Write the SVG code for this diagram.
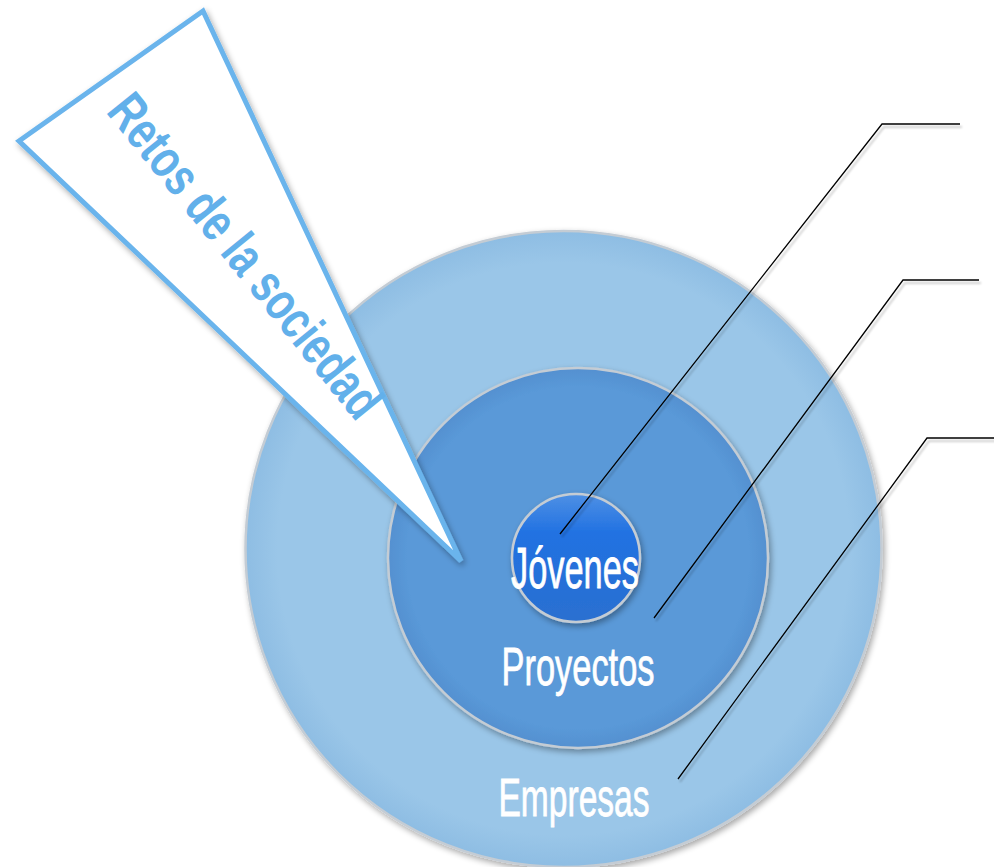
<svg xmlns="http://www.w3.org/2000/svg" width="994" height="867" viewBox="0 0 994 867">
<defs>
  <filter id="sh" x="-20%" y="-20%" width="140%" height="140%">
    <feGaussianBlur in="SourceAlpha" stdDeviation="3"/>
    <feOffset dx="2" dy="3" result="b"/>
    <feComponentTransfer><feFuncA type="linear" slope="0.35"/></feComponentTransfer>
    <feMerge><feMergeNode/><feMergeNode in="SourceGraphic"/></feMerge>
  </filter>
  <filter id="lsh" x="-10%" y="-10%" width="120%" height="120%">
    <feGaussianBlur in="SourceAlpha" stdDeviation="1.2"/>
    <feOffset dx="2" dy="3" result="b"/>
    <feComponentTransfer><feFuncA type="linear" slope="0.25"/></feComponentTransfer>
    <feMerge><feMergeNode/><feMergeNode in="SourceGraphic"/></feMerge>
  </filter>
  <radialGradient id="gOuter" cx="50%" cy="50%" r="50%">
    <stop offset="0.9" stop-color="#9ac6e8"/>
    <stop offset="1" stop-color="#8ebde3"/>
  </radialGradient>
  <radialGradient id="gMid" cx="50%" cy="50%" r="50%">
    <stop offset="0.9" stop-color="#5a99d8"/>
    <stop offset="1" stop-color="#5490d0"/>
  </radialGradient>
  <linearGradient id="gIn" x1="0" y1="0" x2="0" y2="1">
    <stop offset="0" stop-color="#4e90e4"/>
    <stop offset="0.3" stop-color="#2272e2"/>
    <stop offset="1" stop-color="#2a6fd0"/>
  </linearGradient>
  <style>
    .ring { stroke: #c4ccd4; stroke-width: 2.5; }
    .lbl { font-family: "Liberation Sans Narrow", "Liberation Sans", Arial, sans-serif; fill: #ffffff; stroke: #ffffff; stroke-width: 0.8; text-anchor: middle; }
    .conn { fill: none; stroke: #000000; stroke-width: 1.3; }
  </style>
</defs>
<rect width="994" height="867" fill="#ffffff"/>

<g id="empresas">
  <circle cx="563.5" cy="549" r="318" fill="url(#gOuter)" class="ring" filter="url(#sh)"/>
  <text class="lbl" x="574" y="816" font-size="53" textLength="151" lengthAdjust="spacingAndGlyphs">Empresas</text>
</g>

<g id="proyectos">
  <circle cx="578" cy="558" r="190" fill="url(#gMid)" class="ring" filter="url(#sh)"/>
  <text class="lbl" x="578" y="685" font-size="53" textLength="153" lengthAdjust="spacingAndGlyphs">Proyectos</text>
</g>

<g id="jovenes">
  <circle cx="576" cy="558" r="64" fill="url(#gIn)" class="ring" filter="url(#sh)"/>
  <text class="lbl" x="575" y="588" font-size="57" textLength="128" lengthAdjust="spacingAndGlyphs">Jóvenes</text>
</g>

<g id="retos">
  <polygon points="203,11 19,141 461,561" fill="#ffffff" stroke="#6ab4ec" stroke-width="5" stroke-linejoin="miter" filter="url(#sh)"/>
  <text transform="translate(245,256) rotate(51)" x="0" y="18" font-family="Liberation Sans Narrow, Liberation Sans, Arial, sans-serif" font-weight="bold" font-size="54" fill="#62b0ea" text-anchor="middle" textLength="400" lengthAdjust="spacingAndGlyphs">Retos de la sociedad</text>
</g>

<g id="connectors" filter="url(#lsh)">
  <polyline class="conn" points="560,534 882,124 960,124"/>
  <polyline class="conn" points="654,618 903,280 979,280"/>
  <polyline class="conn" points="678,779 927,438 994,438"/>
</g>
</svg>
